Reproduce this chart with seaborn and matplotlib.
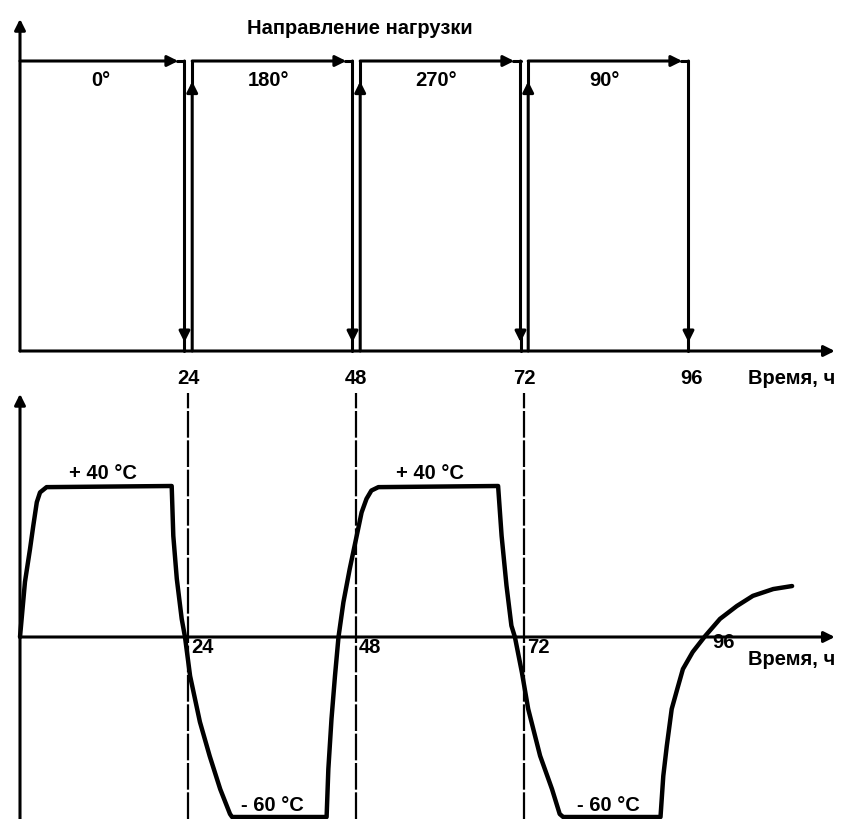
import numpy as np
import pandas as pd
import matplotlib
matplotlib.use('Agg')
import matplotlib.pyplot as plt
import seaborn as sns

# Данные диаграммы
period_start = [0, 24, 48, 72]
period_end = [24, 48, 72, 96]
load_direction = ['0°', '180°', '270°', '90°']
hour_ticks = [24, 48, 72, 96]
temp_levels = ['+ 40 °C', '- 60 °C']

# Температурный цикл (время, ч / температура, °C), схематично
time_h = [0, 0.71, 1.43, 1.9, 2.4, 2.86, 3.8, 21.67, 21.9, 22.4, 23.1, 23.57, 24.3,
          25.7, 27.1, 28.6, 30.0, 30.3, 43.8, 44.05, 44.5, 45.0, 45.5, 46.2, 47.1,
          48.1, 48.8, 49.5, 50.2, 51.2, 68.3, 68.8, 69.5, 70.2, 70.7, 71.7, 72.6,
          74.3, 76.0, 77.1, 77.6, 91.5, 91.9, 92.4, 93.1, 93.9, 94.7, 96.1, 97.9,
          100.0, 102.4, 104.7, 107.6, 110.3]
temp_c = [0, 14.6, 23.3, 29.5, 35.7, 38.3, 39.7, 40, 26.8, 15.4, 4.8, 0, -13,
          -28.3, -39.7, -50.7, -59, -60, -60, -44, -27.3, -12.9, 0, 9.2, 18,
          26.8, 33, 36.6, 38.8, 39.7, 40, 26.8, 13.6, 3, 0, -11.8, -24,
          -39.6, -50.7, -59, -60, -60, -46.3, -36.3, -24, -17.3, -10.7, -5, 0.3,
          4.8, 8.2, 10.9, 12.7, 13.5]

sns.set_theme(style='white')
plt.rcParams['font.family'] = ['Liberation Sans', 'DejaVu Sans']
plt.rcParams['font.weight'] = 'bold'
plt.rcParams['text.color'] = 'black'

fig = plt.figure(figsize=(8.43, 8.2), dpi=100)
# верхняя панель — 390 px, нижняя — 430 px
ax1 = fig.add_axes([0, 430 / 820, 1, 390 / 820])
ax2 = fig.add_axes([0, 0, 1, 430 / 820])

x_end = 116.4
lw = 2.2
arrow = dict(arrowstyle='-|>', color='black', lw=lw, mutation_scale=16, shrinkA=0, shrinkB=0)
txt = dict(fontsize=14.5, fontweight='bold', color='black')

# ---- верхняя панель: направление нагрузки ----
ax1.annotate('', xy=(0, 1.145), xytext=(0, 0), arrowprops=arrow)
ax1.annotate('', xy=(x_end, 0), xytext=(0, 0), arrowprops=arrow)

for i, (s, e, lab) in enumerate(zip(period_start, period_end, load_direction)):
    x0 = s + 0.6 if i > 0 else 0
    xd = e - 0.5
    # горизонтальная стрелка
    ax1.annotate('', xy=(e - 1.4, 1), xytext=(x0, 1), arrowprops=arrow)
    ax1.plot([e - 1.6, xd], [1, 1], color='black', lw=lw)
    # стрелка вниз
    ax1.annotate('', xy=(xd, 0.03), xytext=(xd, 1), arrowprops=arrow)
    ax1.plot([xd, xd], [0.05, 0], color='black', lw=lw)
    # стрелка вверх (начало периода)
    if i > 0:
        ax1.annotate('', xy=(x0, 0.93), xytext=(x0, 0), arrowprops=arrow)
        ax1.plot([x0, x0], [0.9, 1], color='black', lw=lw)
    ax1.text((s + e) / 2 - 0.5, 0.935, lab, ha='center', va='center', **txt)

ax1.text(48.6, 1.117, 'Направление нагрузки', ha='center', va='center', **txt)
for h in hour_ticks:
    ax1.text(h, -0.09, str(h), ha='center', va='center', **txt)
ax1.text(x_end, -0.09, 'Время, ч', ha='right', va='center', **txt)

ax1.set_xlim(-20 / 7, 823 / 7)
ax1.set_ylim(-38 / 290, 352 / 290)
ax1.set_axis_off()

# ---- нижняя панель: температура ----
k = 3.775 / 3.0


def fwd(y):
    y = np.asarray(y, dtype=float)
    return np.where(y > 0, y * k, y)


def inv(y):
    y = np.asarray(y, dtype=float)
    return np.where(y > 0, y / k, y)


ax2.set_yscale('function', functions=(fwd, inv))

df = pd.DataFrame({'time': time_h, 'temp': temp_c})
sns.lineplot(data=df, x='time', y='temp', ax=ax2, sort=False, estimator=None,
             color='black', lw=3.2)

ax2.annotate('', xy=(0, 64.4), xytext=(0, -61), arrowprops=arrow)
ax2.annotate('', xy=(x_end, 0), xytext=(0, 0), arrowprops=arrow)

for h in hour_ticks[:3]:
    ax2.axvline(h, ymin=0, ymax=0.99, color='black', lw=1.6, dashes=(12, 1.2))

for h in hour_ticks[:3]:
    ax2.text(h + 0.4, -3.3, str(h), ha='left', va='center', **txt)
# подпись 96 стоит правее, за кривой
ax2.text(hour_ticks[3] + 2.9, -1.5, str(hour_ticks[3]), ha='left', va='center', **txt)
ax2.text(x_end, -7.3, 'Время, ч', ha='right', va='center', **txt)

for xc in (11.9, 58.6):
    ax2.text(xc, 43.7, temp_levels[0], ha='center', va='center', **txt)
for xc in (36.0, 84.0):
    ax2.text(xc, -55.7, temp_levels[1], ha='center', va='center', **txt)

ax2.set_xlim(-20 / 7, 823 / 7)
ax2.set_ylim(-182 / 3, 248 / 3 / k)
ax2.set_axis_off()

fig.savefig('out.png', dpi=100, facecolor='white')
